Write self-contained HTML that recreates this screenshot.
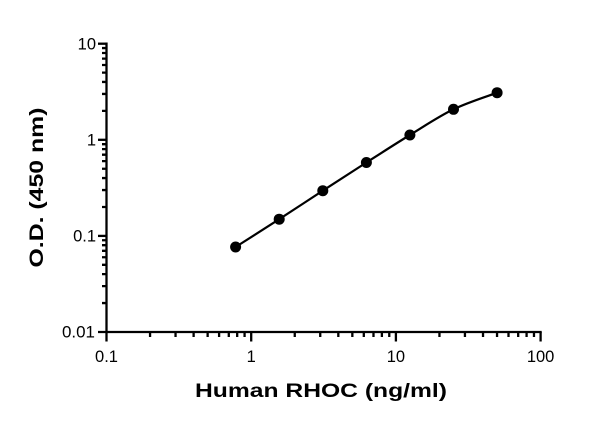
<!DOCTYPE html>
<html>
<head>
<meta charset="utf-8">
<style>
html,body{margin:0;padding:0;background:#fff;}
svg{display:block;}
</style>
</head>
<body>
<svg width="600" height="421" viewBox="0 0 600 421" xmlns="http://www.w3.org/2000/svg">
<rect width="600" height="421" fill="#fff"/>
<g stroke="#000" stroke-width="2.3" fill="none">
  <line x1="106.5" y1="42.5" x2="106.5" y2="341.5"/>
  <line x1="98" y1="332" x2="541.7" y2="332"/>
  <line x1="98" y1="43.7" x2="106.5" y2="43.7"/>
  <line x1="98" y1="139.8" x2="106.5" y2="139.8"/>
  <line x1="98" y1="235.9" x2="106.5" y2="235.9"/>
  <line x1="251.2" y1="332" x2="251.2" y2="341.5"/>
  <line x1="395.9" y1="332" x2="395.9" y2="341.5"/>
  <line x1="540.6" y1="332" x2="540.6" y2="341.5"/>
</g>
<path stroke="#000" stroke-width="2.3" fill="none" d="
M150.06,332V337 M175.54,332V337 M193.62,332V337 M207.64,332V337 M219.10,332V337 M228.79,332V337 M237.18,332V337 M244.58,332V337
M294.76,332V337 M320.24,332V337 M338.32,332V337 M352.34,332V337 M363.80,332V337 M373.49,332V337 M381.88,332V337 M389.28,332V337
M439.46,332V337 M464.94,332V337 M483.02,332V337 M497.04,332V337 M508.50,332V337 M518.19,332V337 M526.58,332V337 M533.98,332V337
M102,303.07H106.5 M102,286.15H106.5 M102,274.14H106.5 M102,264.83H106.5 M102,257.22H106.5 M102,250.79H106.5 M102,245.21H106.5 M102,240.28H106.5
M102,206.97H106.5 M102,190.05H106.5 M102,178.04H106.5 M102,168.73H106.5 M102,161.12H106.5 M102,154.69H106.5 M102,149.11H106.5 M102,144.18H106.5
M102,110.87H106.5 M102,93.95H106.5 M102,81.94H106.5 M102,72.63H106.5 M102,65.02H106.5 M102,58.59H106.5 M102,53.01H106.5 M102,48.08H106.5"/>
<text x="96" y="49.5" style="font-family:'Liberation Sans',Arial,sans-serif;font-size:16.5px;" text-anchor="end" fill="#000">10</text>
<text x="96" y="145.5" style="font-family:'Liberation Sans',Arial,sans-serif;font-size:16.5px;" text-anchor="end" fill="#000">1</text>
<text x="96" y="241.5" style="font-family:'Liberation Sans',Arial,sans-serif;font-size:16.5px;" text-anchor="end" fill="#000">0.1</text>
<text x="95" y="337.5" style="font-family:'Liberation Sans',Arial,sans-serif;font-size:16.5px;" text-anchor="end" fill="#000" textLength="33" lengthAdjust="spacingAndGlyphs">0.01</text>
<text x="106.5" y="362" style="font-family:'Liberation Sans',Arial,sans-serif;font-size:16.5px;" text-anchor="middle" fill="#000">0.1</text>
<text x="251.2" y="362" style="font-family:'Liberation Sans',Arial,sans-serif;font-size:16.5px;" text-anchor="middle" fill="#000">1</text>
<text x="395.9" y="362" style="font-family:'Liberation Sans',Arial,sans-serif;font-size:16.5px;" text-anchor="middle" fill="#000">10</text>
<text x="540.6" y="362" style="font-family:'Liberation Sans',Arial,sans-serif;font-size:16.5px;" text-anchor="middle" fill="#000">100</text>
<text x="321" y="397" style="font-family:'Liberation Sans',Arial,sans-serif;font-size:19px;font-weight:bold;" text-anchor="middle" fill="#000" textLength="252" lengthAdjust="spacingAndGlyphs">Human RHOC (ng/ml)</text>
<text transform="translate(43,187.5) rotate(-90)" x="0" y="0" style="font-family:'Liberation Sans',Arial,sans-serif;font-size:19px;font-weight:bold;" text-anchor="middle" fill="#000" textLength="160" lengthAdjust="spacingAndGlyphs">O.D. (450 nm)</text>
<path fill="none" stroke="#000" stroke-width="2.2" d="M235.6,247 C242.87,242.37 264.67,228.58 279.2,219.2 C293.73,209.82 308.27,200.15 322.8,190.7 C337.33,181.25 351.88,171.78 366.4,162.5 C380.92,153.22 395.38,143.87 409.9,135 C424.42,126.13 438.97,116.35 453.5,109.3 C468.03,102.25 489.83,95.47 497.1,92.7"/>
<g fill="#000">
  <circle cx="235.6" cy="247" r="5.5"/>
  <circle cx="279.2" cy="219.2" r="5.5"/>
  <circle cx="322.8" cy="190.7" r="5.5"/>
  <circle cx="366.4" cy="162.5" r="5.5"/>
  <circle cx="409.9" cy="135" r="5.5"/>
  <circle cx="453.5" cy="109.3" r="5.5"/>
  <circle cx="497.1" cy="92.7" r="5.5"/>
</g>
</svg>
</body>
</html>
